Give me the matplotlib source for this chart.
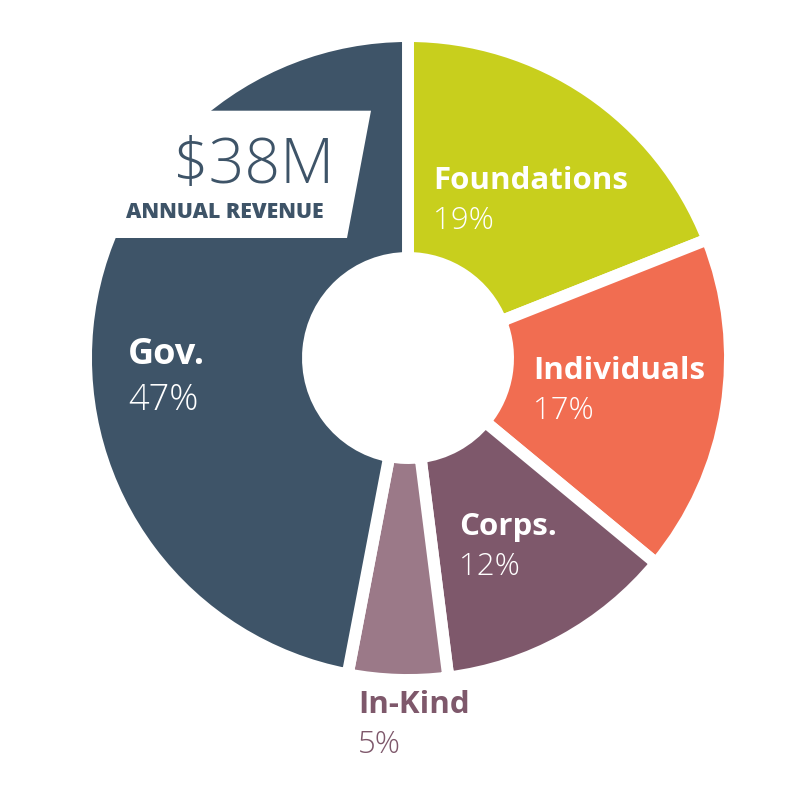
import matplotlib.pyplot as plt
from matplotlib.patches import Polygon

categories = ['Foundations', 'Individuals', 'Corps.', 'In-Kind', 'Gov.']
shares = [19, 17, 12, 5, 47]
colors = ['#C8CF1D', '#F16D51', '#7E586B', '#9B7988', '#3E5468']
total_text = '$38M'
total_sub = 'ANNUAL REVENUE'

# label anchor (left x, baseline y of name) in pixel coords from top-left
label_pos = [(433, 189), (533, 379), (459, 535), (358, 713), (128, 364)]
label_colors = ['white', 'white', 'white', '#7E586B', 'white']
label_sizes = [22.5, 22.5, 22.5, 22.5, 26]

H = 800
fig = plt.figure(figsize=(8, 8), dpi=100)
ax = fig.add_axes([0, 0, 1, 1])

gap_pt = 8.6  # white separator, ~12px
ax.pie(shares, colors=colors, startangle=90, counterclock=False,
       center=(408, H - 358), radius=322,
       wedgeprops=dict(width=222, edgecolor='white', linewidth=gap_pt,
                       joinstyle='miter'))
ax.set_xlim(0, 800)
ax.set_ylim(0, 800)
ax.set_aspect('equal')
ax.axis('off')

# white tag for the total
box = Polygon([(60, H - 110.7), (371, H - 110.7), (347, H - 238), (60, H - 238)],
              closed=True, facecolor='white', edgecolor='none', zorder=5)
ax.add_patch(box)
ax.text(334, H - 183, total_text, ha='right', va='baseline', fontsize=45,
        family='Open Sans', weight='light', color='#3E5468', zorder=6)
ax.text(324, H - 218, total_sub, ha='right', va='baseline', fontsize=15.3,
        family='Open Sans', weight='heavy', color='#3E5468', zorder=6)

for name, pct, (x, y), c, s in zip(categories, shares, label_pos, label_colors, label_sizes):
    ax.text(x, H - y, name, ha='left', va='baseline', fontsize=s,
            family='Open Sans', weight='bold', color=c, zorder=6)
    ax.text(x, H - y - s * 1.78, f'{pct}%', ha='left', va='baseline', fontsize=s,
            family='Open Sans', weight='light', color=c, zorder=6)

fig.savefig('out.png', dpi=100, facecolor='white')
